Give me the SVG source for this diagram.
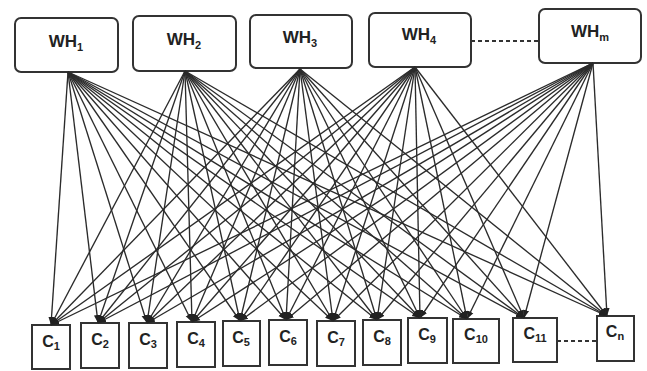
<svg xmlns="http://www.w3.org/2000/svg" width="647" height="371" viewBox="0 0 647 371">
  <style>
    .wh rect { fill: #fff; stroke: #333; stroke-width: 2; }
    .cu rect { fill: #fff; stroke: #333; stroke-width: 2; }
    .lbl { font-family: "Liberation Sans", Arial, sans-serif; font-weight: bold; fill: #222; text-anchor: middle; }
    .wh .lbl { font-size: 17px; }
    .cu .lbl { font-size: 16px; }
    .sub { font-size: 11px; }
    .links line { stroke: #2b2b2b; stroke-width: 1.35; marker-end: url(#tip); }
    .dash { stroke: #333; stroke-width: 2; stroke-dasharray: 4 3; fill: none; }
  </style>
  <defs>
    <marker id="tip" markerUnits="userSpaceOnUse" markerWidth="8" markerHeight="8" viewBox="0 0 8 8" refX="8" refY="4" orient="auto">
      <path d="M0,0.9 L8,4 L0,7.1 Z" fill="#222"/>
    </marker>
  </defs>
  <rect width="647" height="371" fill="#fff"/>

  <!-- warehouses -->
  <g id="wh1" class="wh"><rect x="15" y="18" width="103" height="54" rx="6"/><text class="lbl" x="66" y="47">WH<tspan class="sub" dy="4">1</tspan></text></g>
  <g id="wh2" class="wh"><rect x="133" y="16" width="103" height="55" rx="6"/><text class="lbl" x="184" y="45">WH<tspan class="sub" dy="4">2</tspan></text></g>
  <g id="wh3" class="wh"><rect x="250" y="15" width="102" height="53" rx="6"/><text class="lbl" x="300" y="43">WH<tspan class="sub" dy="4">3</tspan></text></g>
  <g id="wh4" class="wh"><rect x="369" y="13" width="102" height="54" rx="6"/><text class="lbl" x="419" y="40">WH<tspan class="sub" dy="4">4</tspan></text></g>
  <g id="whm" class="wh"><rect x="539" y="9" width="102" height="54" rx="6"/><text class="lbl" x="590" y="37">WH<tspan class="sub" dy="4">m</tspan></text></g>
  <line class="dash" x1="471" y1="41" x2="539" y2="41"/>

  <!-- customers -->
  <g id="c1" class="cu"><rect x="32" y="325" width="38" height="44"/><text class="lbl" x="51" y="347">C<tspan class="sub" dy="3">1</tspan></text></g>
  <g id="c2" class="cu"><rect x="81" y="323" width="38" height="45"/><text class="lbl" x="100" y="345">C<tspan class="sub" dy="3">2</tspan></text></g>
  <g id="c3" class="cu"><rect x="129" y="323" width="38" height="45"/><text class="lbl" x="148" y="345">C<tspan class="sub" dy="3">3</tspan></text></g>
  <g id="c4" class="cu"><rect x="177" y="322" width="38" height="45"/><text class="lbl" x="196" y="344">C<tspan class="sub" dy="3">4</tspan></text></g>
  <g id="c5" class="cu"><rect x="223" y="321" width="37" height="45"/><text class="lbl" x="241" y="343">C<tspan class="sub" dy="3">5</tspan></text></g>
  <g id="c6" class="cu"><rect x="269" y="320" width="38" height="45"/><text class="lbl" x="288" y="342">C<tspan class="sub" dy="3">6</tspan></text></g>
  <g id="c7" class="cu"><rect x="317" y="321" width="38" height="45"/><text class="lbl" x="336" y="343">C<tspan class="sub" dy="3">7</tspan></text></g>
  <g id="c8" class="cu"><rect x="363" y="320" width="38" height="45"/><text class="lbl" x="382" y="342">C<tspan class="sub" dy="3">8</tspan></text></g>
  <g id="c9" class="cu"><rect x="408" y="318" width="39" height="45"/><text class="lbl" x="427" y="340">C<tspan class="sub" dy="3">9</tspan></text></g>
  <g id="c10" class="cu"><rect x="453" y="319" width="46" height="44"/><text class="lbl" x="476" y="340">C<tspan class="sub" dy="3">10</tspan></text></g>
  <g id="c11" class="cu"><rect x="513" y="318" width="44" height="44"/><text class="lbl" x="535" y="339">C<tspan class="sub" dy="3">11</tspan></text></g>
  <g id="cn" class="cu"><rect x="597" y="316" width="37" height="45"/><text class="lbl" x="615" y="337">C<tspan class="sub" dy="3">n</tspan></text></g>
  <line class="dash" x1="557" y1="341" x2="597" y2="341"/>

  <!-- every warehouse ships to every customer -->
  <g id="connectors" class="links">
    <!-- from WH1 -->
    <line x1="68" y1="72" x2="51" y2="325"/><line x1="68" y1="72" x2="98" y2="323"/><line x1="68" y1="72" x2="147" y2="323"/><line x1="68" y1="72" x2="192" y2="322"/><line x1="68" y1="72" x2="240" y2="321"/><line x1="68" y1="72" x2="286" y2="320"/><line x1="68" y1="72" x2="333" y2="321"/><line x1="68" y1="72" x2="377" y2="320"/><line x1="68" y1="72" x2="420" y2="318"/><line x1="68" y1="72" x2="467" y2="319"/><line x1="68" y1="72" x2="524" y2="318"/><line x1="68" y1="72" x2="607" y2="316"/>
    <!-- from WH2 -->
    <line x1="185" y1="71" x2="51" y2="325"/><line x1="185" y1="71" x2="98" y2="323"/><line x1="185" y1="71" x2="147" y2="323"/><line x1="185" y1="71" x2="192" y2="322"/><line x1="185" y1="71" x2="240" y2="321"/><line x1="185" y1="71" x2="286" y2="320"/><line x1="185" y1="71" x2="333" y2="321"/><line x1="185" y1="71" x2="377" y2="320"/><line x1="185" y1="71" x2="420" y2="318"/><line x1="185" y1="71" x2="467" y2="319"/><line x1="185" y1="71" x2="524" y2="318"/><line x1="185" y1="71" x2="607" y2="316"/>
    <!-- from WH3 -->
    <line x1="300" y1="69" x2="51" y2="325"/><line x1="300" y1="69" x2="98" y2="323"/><line x1="300" y1="69" x2="147" y2="323"/><line x1="300" y1="69" x2="192" y2="322"/><line x1="300" y1="69" x2="240" y2="321"/><line x1="300" y1="69" x2="286" y2="320"/><line x1="300" y1="69" x2="333" y2="321"/><line x1="300" y1="69" x2="377" y2="320"/><line x1="300" y1="69" x2="420" y2="318"/><line x1="300" y1="69" x2="467" y2="319"/><line x1="300" y1="69" x2="524" y2="318"/><line x1="300" y1="69" x2="607" y2="316"/>
    <!-- from WH4 -->
    <line x1="415" y1="67" x2="51" y2="325"/><line x1="415" y1="67" x2="98" y2="323"/><line x1="415" y1="67" x2="147" y2="323"/><line x1="415" y1="67" x2="192" y2="322"/><line x1="415" y1="67" x2="240" y2="321"/><line x1="415" y1="67" x2="286" y2="320"/><line x1="415" y1="67" x2="333" y2="321"/><line x1="415" y1="67" x2="377" y2="320"/><line x1="415" y1="67" x2="420" y2="318"/><line x1="415" y1="67" x2="467" y2="319"/><line x1="415" y1="67" x2="524" y2="318"/><line x1="415" y1="67" x2="607" y2="316"/>
    <!-- from WHm -->
    <line x1="593" y1="63" x2="51" y2="325"/><line x1="593" y1="63" x2="98" y2="323"/><line x1="593" y1="63" x2="147" y2="323"/><line x1="593" y1="63" x2="192" y2="322"/><line x1="593" y1="63" x2="240" y2="321"/><line x1="593" y1="63" x2="286" y2="320"/><line x1="593" y1="63" x2="333" y2="321"/><line x1="593" y1="63" x2="377" y2="320"/><line x1="593" y1="63" x2="420" y2="318"/><line x1="593" y1="63" x2="467" y2="319"/><line x1="593" y1="63" x2="524" y2="318"/><line x1="593" y1="63" x2="607" y2="316"/>
  </g>
</svg>
